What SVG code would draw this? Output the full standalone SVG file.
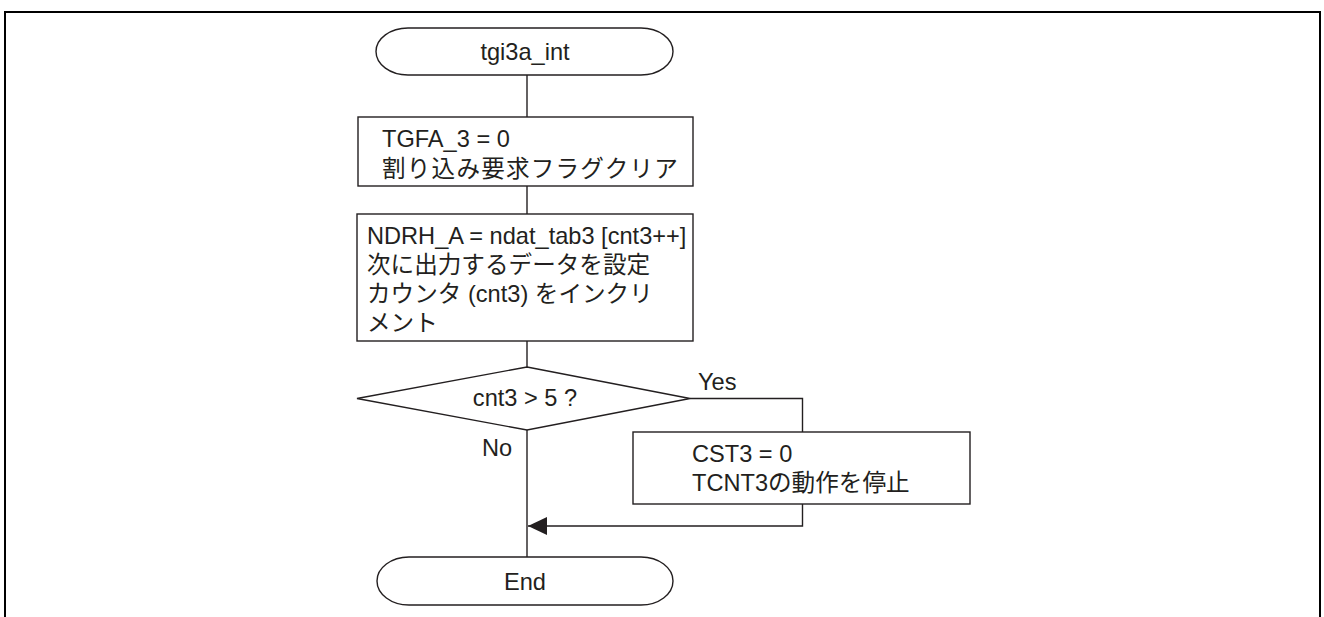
<svg xmlns="http://www.w3.org/2000/svg" width="1324" height="617" viewBox="0 0 1324 617">
<style>
.s{fill:#fff;stroke:#231f20;stroke-width:1.4}
.c{fill:none;stroke:#231f20;stroke-width:1.4}
text{font-family:"Liberation Sans","Noto Sans CJK JP",Arial,sans-serif;font-size:23.6px;fill:#231f20}
.m{text-anchor:middle}
</style>
<defs>
<marker id="ah" markerWidth="19" markerHeight="18" refX="19" refY="9" orient="auto" markerUnits="userSpaceOnUse">
<path d="M0,0 L19,9 L0,18 Z" fill="#231f20"/>
</marker>
</defs>
<rect width="1324" height="617" fill="#fff"/>
<path d="M5,617 V12 H1320 V617" fill="none" stroke="#000" stroke-width="2"/>
<g id="connectors">
<line class="c" x1="527" y1="75" x2="527" y2="117"/>
<line class="c" x1="527" y1="186" x2="527" y2="214"/>
<line class="c" x1="527" y1="341" x2="527" y2="367"/>
<line class="c" x1="527" y1="430" x2="527" y2="557"/>
<polyline class="c" points="690,398.5 802.5,398.5 802.5,432"/>
<polyline class="c" points="802.5,504 802.5,526 528,526" marker-end="url(#ah)"/>
<text x="698" y="390">Yes</text>
<text x="482" y="456">No</text>
</g>
<g id="start">
<rect class="s" x="376" y="28" width="297" height="47" rx="32" ry="23.5"/>
<text class="m" x="525" y="60">tgi3a_int</text>
</g>
<g id="box1">
<rect class="s" x="358" y="117" width="335" height="69"/>
<text x="382" y="147">TGFA_3 = 0</text>
<text x="382" y="176.5" letter-spacing="1.2">割り込み要求フラグクリア</text>
</g>
<g id="box2">
<rect class="s" x="357" y="214" width="336" height="127"/>
<text x="367" y="244">NDRH_A = ndat_tab3 [cnt3++]</text>
<text x="367" y="273">次に出力するデータを設定</text>
<text x="367" y="302">カウンタ (cnt3) をインクリ</text>
<text x="367" y="331">メント</text>
</g>
<g id="decision">
<polygon class="s" points="527,367 690,398.5 527,430 357,398.5"/>
<text class="m" x="525" y="406">cnt3 &gt; 5 ?</text>
</g>
<g id="box3">
<rect class="s" x="633" y="432" width="337" height="72"/>
<text x="692" y="461.5">CST3 = 0</text>
<text x="692" y="490.5">TCNT3の動作を停止</text>
</g>
<g id="end">
<rect class="s" x="377" y="557" width="296" height="48" rx="32" ry="24"/>
<text class="m" x="525" y="590">End</text>
</g>
</svg>
